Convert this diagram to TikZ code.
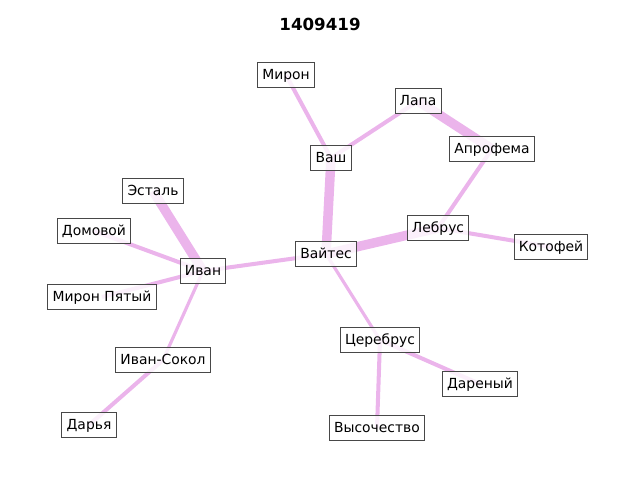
\documentclass[tikz,border=0pt]{standalone}
\usepackage{fontspec}
\setmainfont{DejaVu Sans}
\usetikzlibrary{backgrounds}
\definecolor{edgecol}{RGB}{235,180,235}
\definecolor{boxline}{RGB}{72,72,72}
\tikzset{
  lbl/.style={draw=boxline, line width=0.7pt, fill=white, fill opacity=0.8, text opacity=1,
    inner xsep=3.4pt, inner ysep=3.3pt, text height=8.4pt, text depth=2.4pt, font=\fontsize{10pt}{12pt}\selectfont},
  thin edge/.style={draw=edgecol, line width=2.9pt},
  mid edge/.style={draw=edgecol, line width=2.3pt},
  thick edge/.style={draw=edgecol, line width=6.8pt},
}
\begin{document}
\begin{tikzpicture}[x=0.72pt,y=-0.72pt]
\useasboundingbox (0,0) rectangle (640,480);
\node[font=\bfseries\fontsize{12pt}{14pt}\selectfont] (title) at (320,24) {1409419};
\node[lbl] (miron) at (286,75) {Мирон};
\node[lbl] (lapa) at (418,101) {Лапа};
\node[lbl] (vash) at (331,158) {Ваш};
\node[lbl] (aprofema) at (492,149) {Апрофема};
\node[lbl] (estal) at (153,191) {Эсталь};
\node[lbl] (domovoy) at (94,231) {Домовой};
\node[lbl] (lebrus) at (438,228) {Лебрус};
\node[lbl] (kotofey) at (551,247) {Котофей};
\node[lbl] (vaytes) at (326,254) {Вайтес};
\node[lbl] (ivan) at (203,271) {Иван};
\node[lbl] (mironp) at (102,297) {Мирон Пятый};
\node[lbl] (cerebrus) at (380,340) {Церебрус};
\node[lbl] (ivansokol) at (163,360) {Иван-Сокол};
\node[lbl] (dareny) at (480,384) {Дареный};
\node[lbl] (darya) at (89,425) {Дарья};
\node[lbl] (vysoch) at (377,428) {Высочество};
\begin{pgfonlayer}{background}
\draw[thin edge] (miron.center) -- (vash.center);
\draw[thin edge] (vash.center) -- (lapa.center);
\draw[thick edge] (lapa.center) -- (aprofema.center);
\draw[thin edge] (aprofema.center) -- (lebrus.center);
\draw[thick edge] (vash.center) -- (vaytes.center);
\draw[thick edge] (vaytes.center) -- (lebrus.center);
\draw[thin edge] (lebrus.center) -- (kotofey.center);
\draw[thin edge] (vaytes.center) -- (ivan.center);
\draw[thick edge] (ivan.center) -- (estal.center);
\draw[thin edge] (ivan.center) -- (domovoy.center);
\draw[thin edge] (ivan.center) -- (mironp.center);
\draw[mid edge] (ivan.center) -- (ivansokol.center);
\draw[thin edge] (ivansokol.center) -- (darya.center);
\draw[mid edge] (vaytes.center) -- (cerebrus.center);
\draw[thin edge] (cerebrus.center) -- (dareny.center);
\draw[thin edge] (cerebrus.center) -- (vysoch.center);
\end{pgfonlayer}
\end{tikzpicture}
\end{document}
